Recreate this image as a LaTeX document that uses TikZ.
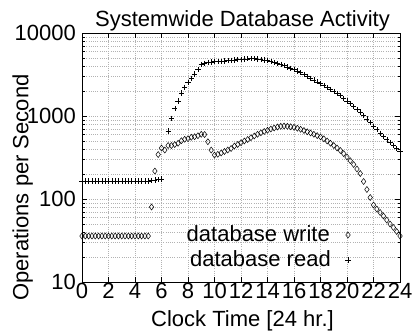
\documentclass[tikz,border=0pt]{standalone}
\usepackage{fontspec}
\setmainfont{Liberation Sans}
\usetikzlibrary{plotmarks}
\begin{document}
\begin{tikzpicture}[x=1pt,y=-1pt,
  font=\fontsize{22}{26}\selectfont,
  gridline/.style={gray!60, line width=0.5pt, dash pattern=on 0.6pt off 1.6pt},
  frameline/.style={line width=0.8pt},
  tickline/.style={line width=0.6pt},
  lbl/.style={inner sep=0pt},
  wmark/.style={mark=diamond, mark size=3pt, mark options={line width=0.5pt}},
  rmark/.style={mark=+, mark size=2.6pt, mark options={line width=0.5pt}}]
\useasboundingbox (0,0) rectangle (412,335);
% grid
\foreach \t in {2,4,...,22} {\draw[gridline] ({82+13.25*\t},33) -- ({82+13.25*\t},282);}
\foreach \d in {282,199,116} {
  \foreach \k in {2,...,9} {
    \pgfmathsetmacro\yy{\d-83*log10(\k)}
    \draw[gridline] (82,\yy) -- (400,\yy);
  }
}
\draw[gridline] (82,199) -- (400,199);
\draw[gridline] (82,116) -- (400,116);
% ticks
\foreach \t in {0,2,...,24} {
  \draw[tickline] ({82+13.25*\t},282) -- ++(0,-5);
  \draw[tickline] ({82+13.25*\t},33) -- ++(0,5);
}
\foreach \d in {282,199,116,33} {
  \draw[tickline] (82,\d) -- ++(5,0);
  \draw[tickline] (400,\d) -- ++(-5,0);
}
\foreach \d in {282,199,116} {
  \foreach \k in {2,...,9} {
    \pgfmathsetmacro\yy{\d-83*log10(\k)}
    \draw[tickline] (82,\yy) -- ++(2.5,0);
    \draw[tickline] (400,\yy) -- ++(-2.5,0);
  }
}
\draw[frameline] (82,33) rectangle (400,282);
% tick labels
\node[lbl, anchor=east] (y10000) at (76,33) {10000};
\node[lbl, anchor=east] (y1000) at (76,116) {1000};
\node[lbl, anchor=east] (y100) at (76,199) {100};
\node[lbl, anchor=east] (y10) at (76,282) {10};
\foreach \t in {0,2,...,24} {
  \node[lbl, anchor=base] (x\t) at ({82+13.25*\t},298) {\t};
}
% titles
\node[lbl, anchor=base] (title) at (242.5,26.7) {Systemwide Database Activity};
\node[lbl, anchor=base] (xlabel) at (242.5,326.7) {Clock Time [24 hr.]};
\node[lbl, anchor=base, rotate=90] (ylabel) at (28.3,187.5) {Operations per Second};
% legend
\node[lbl, anchor=base east] (lw) at (330,241) {database write};
\node[lbl, anchor=base east] (lr) at (331,266) {database read};
\draw plot[only marks, wmark] coordinates {(348,235)};
\draw plot[only marks, rmark] coordinates {(348,260)};
% data
\begin{scope}[xshift=82pt, x=13.25pt, y=-1pt]
\draw plot[only marks, rmark] coordinates {
(0,181)(0.25,181)(0.5,181)(0.75,181)(1,181)(1.25,181)(1.5,181)(1.75,181)(2,181)(2.25,181)(2.5,181)(2.75,181)(3,181)(3.25,181)(3.5,181)(3.75,181)(4,181)(4.25,181)(4.5,181)(4.75,181)(5,181)
(5.25,180.5)(5.5,180)(5.75,179.5)(6,179)
(6.5,131)(6.75,118.3)(7,108.7)(7.25,101)(7.5,93)(7.75,87.3)(8,82.3)(8.25,78.3)(8.5,74)(8.75,69.3)(9,64.3)(9.25,63.3)(9.5,62.3)
(9.75,62.0)(10,61.7)(10.25,61.5)(10.5,61.2)(10.75,60.9)(11,60.6)(11.25,60.3)(11.5,59.9)(11.75,59.6)(12,59.2)
(12.25,58.9)(12.5,58.8)(12.75,58.7)(13,58.5)(13.25,58.9)(13.5,59.5)(13.75,60.0)(14,60.6)(14.25,61.5)(14.5,62.4)(14.75,63.3)
(15,64.3)(15.25,65.6)(15.5,66.9)(15.75,68.2)(16,69.5)(16.25,70.9)(16.5,72.7)(16.75,74.5)(17,76.3)(17.25,78.1)(17.5,80.0)(17.75,81.8)
(18,83.6)(18.25,85.5)(18.5,87.5)(18.75,89.4)(19,91.4)(19.25,93.3)(19.5,95.3)(19.75,98.1)(20,100.9)(20.25,103.6)(20.5,106.4)(20.75,109.2)
(21,112.0)(21.25,115.5)(21.5,119.0)(21.75,122.6)(22,126.1)(22.25,129.6)(22.5,133.1)(22.75,136.2)(23,139.3)(23.25,142.4)(23.5,145.5)(23.75,148.6)(24,151.7)
};
\draw plot[only marks, wmark] coordinates {
(0,236)(0.25,236)(0.5,236)(0.75,236)(1,236)(1.25,236)(1.5,236)(1.75,236)(2,236)(2.25,236)(2.5,236)(2.75,236)(3,236)(3.25,236)(3.5,236)(3.75,236)(4,236)(4.25,236)(4.5,236)(4.75,236)(5,236)
(5.25,207)(5.5,171)(5.75,154.5)(6,148)(6.25,150)(6.5,145.5)(6.75,145.5)(7,144.5)(7.25,143.3)(7.5,140.7)(7.75,139.3)(8,138.7)(8.25,137.3)(8.5,136.7)(8.75,135.7)(9,134.3)(9.25,134.5)
(9.5,141.7)(9.75,150)(10,155)(10.25,154.3)(10.5,153)(10.75,151.5)(11,150)(11.25,148.5)(11.5,146)(11.75,144.5)(12,142.7)(12.25,141)(12.5,139.5)(12.75,137.7)
(13,136)(13.25,134.3)(13.5,132.8)(13.75,131.5)(14,130.3)(14.25,129)(14.5,128)(14.75,127)(15,126.3)(15.25,126)(15.5,126.3)(15.75,126.8)(16,127.3)(16.25,128.2)(16.5,129.3)(16.75,130.5)
(17,131.8)(17.25,133)(17.5,134.3)(17.75,135.6)(18,136.9)(18.25,138.8)(18.5,141)(18.75,143.2)(19,145.5)(19.25,148)(19.5,150.5)(19.75,153.6)(20,157)(20.25,160.7)(20.5,164.5)(20.75,169)
(21,173.5)(21.25,181.5)(21.5,189.5)(21.75,197.5)(22,205)(22.25,209)(22.5,212.5)(22.75,216)(23,220)(23.25,224)(23.5,227.5)(23.75,231.5)(24,236)
};
\end{scope}
\end{tikzpicture}
\end{document}
